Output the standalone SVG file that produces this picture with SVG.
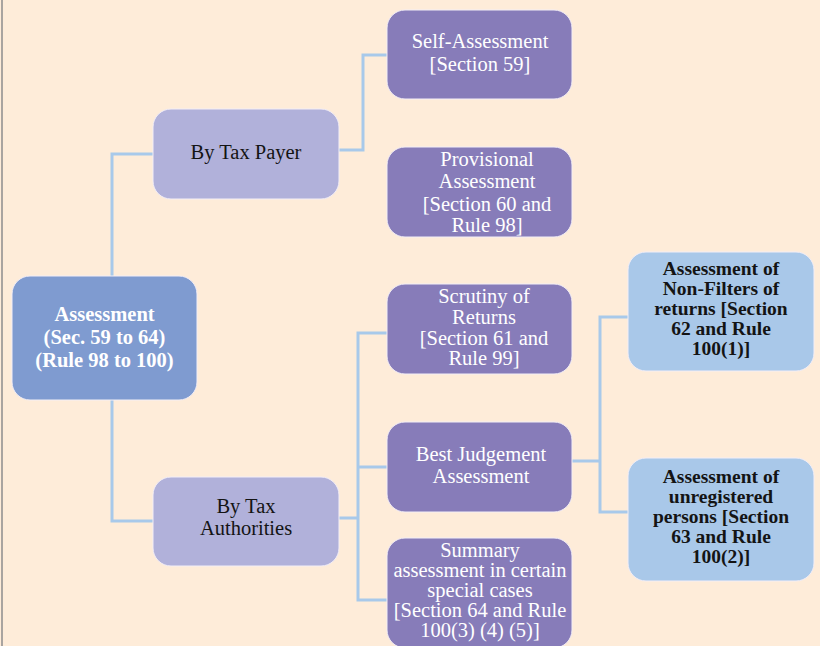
<svg xmlns="http://www.w3.org/2000/svg" width="820" height="646" viewBox="0 0 820 646">
  <style>
    .box { stroke: #f3eef6; stroke-width: 1; }
    .root { fill: #7f9bd0; }
    .mid { fill: #b1b1da; }
    .leaf { fill: #877cb9; }
    .sub { fill: #a9c8e9; }
    text { font-family: "Liberation Serif", "Times New Roman", serif; font-size: 20.5px; text-anchor: middle; }
    .white { fill: #ffffff; }
    .bold { font-weight: bold; }
    .dark { fill: #141414; }
    .small { font-size: 19.5px; }
    .link { fill: none; stroke: #a8c9ea; stroke-width: 3; }
  </style>

  <!-- page background and left rule -->
  <rect x="0" y="0" width="820" height="646" fill="#feecd9"/>
  <line x1="2" y1="0" x2="2" y2="646" stroke="#8c8c8c" stroke-width="1.5"/>

  <!-- connectors -->
  <g id="connectors">
    <path class="link" d="M112,276 V154 H153"/>
    <path class="link" d="M112,400 V521 H153"/>
    <path class="link" d="M339,150 H363 V55 H387"/>
    <path class="link" d="M339,518 H358"/>
    <path class="link" d="M387,333 H358 V600 H387"/>
    <path class="link" d="M358,467 H387"/>
    <path class="link" d="M572,461 H600"/>
    <path class="link" d="M628,317 H600 V512 H628"/>
  </g>

  <!-- root -->
  <g id="assessment">
    <rect class="box root" x="12" y="276" width="185" height="124" rx="18"/>
    <text class="white bold" x="104.5" y="321">Assessment</text>
    <text class="white bold" x="104.5" y="344">(Sec. 59 to 64)</text>
    <text class="white bold" x="104.5" y="367">(Rule 98 to 100)</text>
  </g>

  <g id="by-tax-payer">
    <rect class="box mid" x="153" y="109" width="186" height="90" rx="18"/>
    <text class="dark" x="246" y="159">By Tax Payer</text>
  </g>

  <g id="by-tax-authorities">
    <rect class="box mid" x="153" y="477" width="186" height="89" rx="18"/>
    <text class="dark" x="246" y="513">By Tax</text>
    <text class="dark" x="246" y="535">Authorities</text>
  </g>

  <g id="self-assessment">
    <rect class="box leaf" x="387" y="10" width="185" height="89" rx="18"/>
    <text class="white" x="480" y="48">Self-Assessment</text>
    <text class="white" x="480" y="71">[Section 59]</text>
  </g>

  <g id="provisional-assessment">
    <rect class="box leaf" x="387" y="147" width="185" height="90" rx="18"/>
    <text class="white" x="487" y="166">Provisional</text>
    <text class="white" x="487" y="188">Assessment</text>
    <text class="white" x="487" y="211">[Section 60 and</text>
    <text class="white" x="487" y="232">Rule 98]</text>
  </g>

  <g id="scrutiny-of-returns">
    <rect class="box leaf" x="387" y="284" width="185" height="90" rx="18"/>
    <text class="white" x="484" y="303">Scrutiny of</text>
    <text class="white" x="484" y="324">Returns</text>
    <text class="white" x="484" y="345">[Section 61 and</text>
    <text class="white" x="484" y="365">Rule 99]</text>
  </g>

  <g id="best-judgement">
    <rect class="box leaf" x="387" y="422" width="185" height="90" rx="18"/>
    <text class="white" x="481" y="461">Best Judgement</text>
    <text class="white" x="481" y="483">Assessment</text>
  </g>

  <g id="summary-assessment">
    <rect class="box leaf" x="387" y="538" width="185" height="110" rx="18"/>
    <text class="white" x="480" y="557">Summary</text>
    <text class="white" x="480" y="577">assessment in certain</text>
    <text class="white" x="480" y="597">special cases</text>
    <text class="white" x="480" y="617">[Section 64 and Rule</text>
    <text class="white" x="480" y="637">100(3) (4) (5)]</text>
  </g>

  <g id="non-filers">
    <rect class="box sub" x="628" y="252" width="186" height="119" rx="18"/>
    <text class="dark bold small" x="721" y="275">Assessment of</text>
    <text class="dark bold small" x="721" y="295">Non-Filters of</text>
    <text class="dark bold small" x="721" y="315">returns [Section</text>
    <text class="dark bold small" x="721" y="335">62 and Rule</text>
    <text class="dark bold small" x="721" y="355">100(1)]</text>
  </g>

  <g id="unregistered-persons">
    <rect class="box sub" x="628" y="458" width="186" height="123" rx="18"/>
    <text class="dark bold small" x="721" y="483">Assessment of</text>
    <text class="dark bold small" x="721" y="503">unregistered</text>
    <text class="dark bold small" x="721" y="523">persons [Section</text>
    <text class="dark bold small" x="721" y="543">63 and Rule</text>
    <text class="dark bold small" x="721" y="563">100(2)]</text>
  </g>
</svg>
